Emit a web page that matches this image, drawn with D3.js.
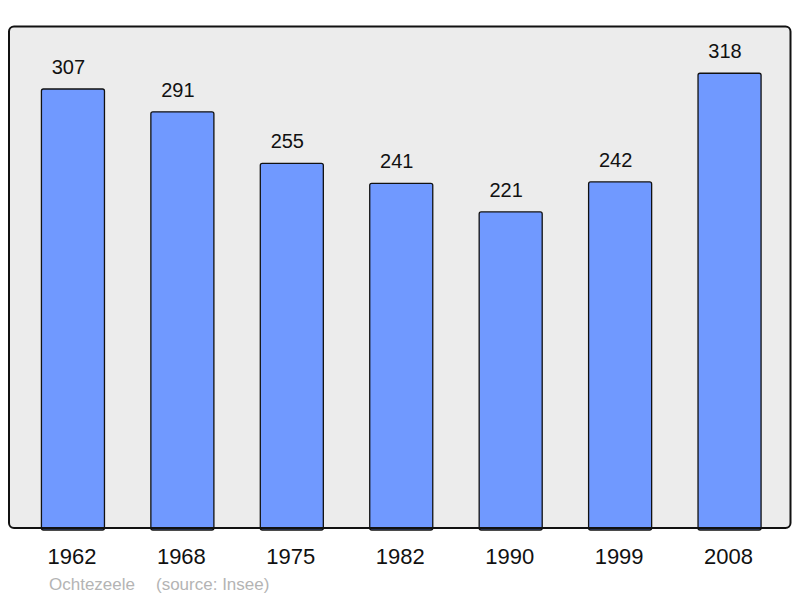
<!DOCTYPE html>
<html>
<head>
<meta charset="utf-8">
<script src="https://cdn.jsdelivr.net/npm/d3@7"></script>
<style>
  body { margin: 0; background: #fff; }
  svg { display: block; font-family: "Liberation Sans", Arial, sans-serif; }
</style>
</head>
<body>
<div id="chart"></div>
<script>
// population data
var years = ["1962", "1968", "1975", "1982", "1990", "1999", "2008"];
var population = [307, 291, 255, 241, 221, 242, 318];
var place = "Ochtezeele";
var source = "(source: Insee)";

var width = 800, height = 598;
var frame = {left: 9, top: 26.5, right: 790.5, bottom: 528};

var svg = d3.select("#chart")
  .append("svg")
    .attr("width", width)
    .attr("height", height);

// background panel
svg.append("rect")
  .attr("x", frame.left)
  .attr("y", frame.top)
  .attr("width", frame.right - frame.left)
  .attr("height", frame.bottom - frame.top)
  .attr("rx", 5)
  .style("fill", "#ececec")
  .style("stroke", "none");

var x = d3.scaleBand()
  .domain(years)
  .range([8.6, 793.9])
  .paddingInner(0.424)
  .paddingOuter(0.3);

var y = d3.scaleLinear()
  .domain([0, 350])
  .range([frame.bottom, frame.bottom - 350 * 1.43]);

var data = years.map(function(d, i) { return {year: d, value: population[i]}; });

// bars
svg.selectAll("mybars")
  .data(data)
  .enter()
  .append("rect")
    .attr("x", function(d) { return x(d.year); })
    .attr("y", function(d) { return y(d.value); })
    .attr("width", x.bandwidth())
    .attr("height", function(d) { return y(0) - y(d.value) + 2; })
    .attr("rx", 2)
    .style("fill", "#7099ff")
    .style("stroke", "#111")
    .style("stroke-width", 1.3);

// value labels (sit a little left of bar centre, like the original)
svg.selectAll("myvalues")
  .data(data)
  .enter()
  .append("text")
    .attr("x", function(d) { return x(d.year) + x.bandwidth() / 2 - 4.5; })
    .attr("y", function(d) { return y(d.value) - 15; })
    .text(function(d) { return d.value; })
    .style("text-anchor", "middle")
    .style("font-size", "20px")
    .style("fill", "#111");

// frame border on top
svg.append("rect")
  .attr("x", frame.left)
  .attr("y", frame.top)
  .attr("width", frame.right - frame.left)
  .attr("height", frame.bottom - frame.top)
  .attr("rx", 5)
  .style("fill", "none")
  .style("stroke", "#111")
  .style("stroke-width", 2);

// year labels
svg.selectAll("myyears")
  .data(years)
  .enter()
  .append("text")
    .attr("x", function(d) { return x(d) + x.bandwidth() / 2 - 1; })
    .attr("y", 564)
    .text(function(d) { return d; })
    .style("text-anchor", "middle")
    .style("font-size", "22px")
    .style("fill", "#111");

// footer
svg.append("text")
  .attr("x", 49)
  .attr("y", 590)
  .text(place)
  .style("font-size", "17px")
  .style("fill", "#b4b4b4");
svg.append("text")
  .attr("x", 156)
  .attr("y", 590)
  .text(source)
  .style("font-size", "17px")
  .style("fill", "#b4b4b4");
</script>
</body>
</html>
